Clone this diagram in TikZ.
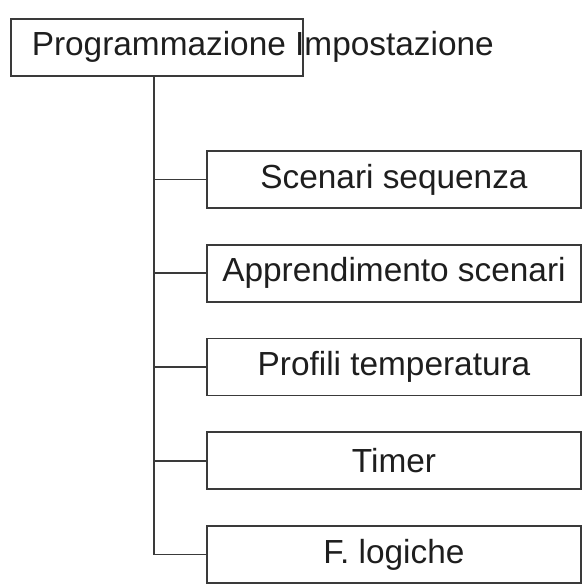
\documentclass[tikz,border=0pt]{standalone}
\usepackage{fontspec}
\setmainfont{Liberation Sans}
\usetikzlibrary{positioning}
\definecolor{linecol}{HTML}{3A3A3A}
\definecolor{textcol}{HTML}{1E1E1E}
\tikzset{
    block/.style = {draw=linecol, rectangle, line width=0.9pt, text=textcol,
        font=\fontsize{19}{22}\selectfont,
        minimum height=1.14cm,
        minimum width=7.48cm, inner sep=0pt},
    topblock/.style = {block, minimum width=5.84cm, inner xsep=0.42cm, anchor=north west},
    branch/.style = {draw=linecol, line width=0.9pt}
}
\begin{document}
\begin{tikzpicture}[x=0.02cm,y=-0.02cm]
    \useasboundingbox (0,0) rectangle (587,585);
    \node[topblock] (prog) at (10,18) {\makebox[5cm][l]{Programmazione Impostazione}};
    \coordinate (trunk) at (154,75);
    \foreach \lab [count=\i] in {Scenari sequenza,Apprendimento scenari,Profili temperatura,Timer,F. logiche} {
        \node[block] (c\i) at (394,{179.5+93.75*(\i-1)}) {\lab};
        \draw[branch] (c\i.west) -- (c\i.west -| trunk);
    }
    \draw[branch] (trunk) -- (trunk |- c5.west);
\end{tikzpicture}
\end{document}
